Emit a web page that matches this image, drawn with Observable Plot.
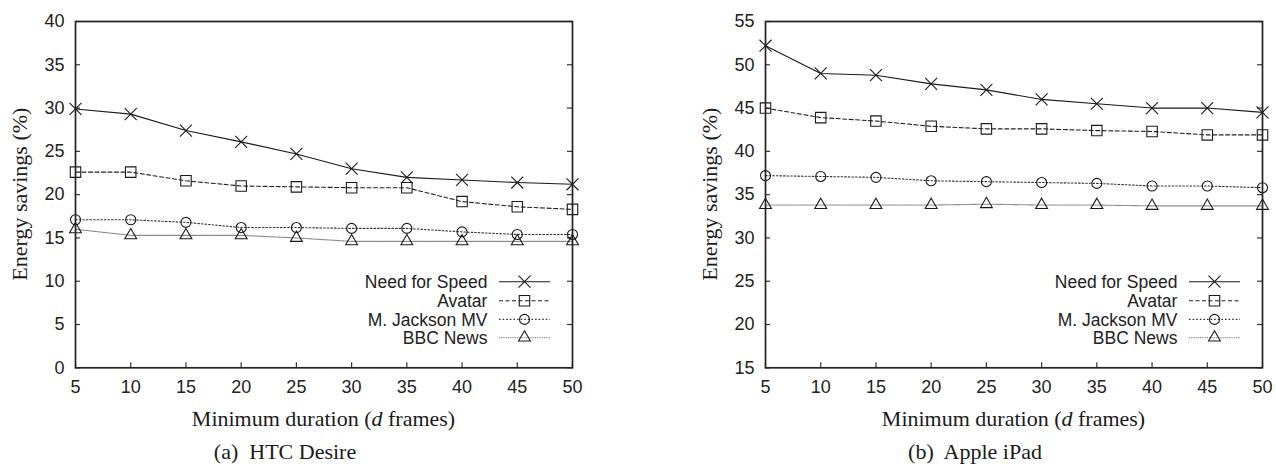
<!DOCTYPE html>
<html>
<head>
<meta charset="utf-8">
<script src="https://cdn.jsdelivr.net/npm/d3@7"></script>
<script src="https://cdn.jsdelivr.net/npm/@observablehq/plot@0.6"></script>
<style>
  html, body { margin: 0; padding: 0; background: #fff; }
  #wrap { position: relative; width: 1276px; height: 464px; overflow: hidden; }
  #wrap svg { position: absolute; top: 0; overflow: visible; }
</style>
</head>
<body>
<div id="wrap"></div>
<script>
// Minimum duration d (frames) on the x axis
const durations = [5, 10, 15, 20, 25, 30, 35, 40, 45, 50];
const seriesNames = ["Need for Speed", "Avatar", "M. Jackson MV", "BBC News"];

// Energy savings (%) on the HTC Desire
const htcNeedForSpeed = [29.9, 29.3, 27.4, 26.1, 24.7, 23.0, 22.0, 21.7, 21.4, 21.2];
const htcAvatar       = [22.6, 22.6, 21.6, 21.0, 20.9, 20.8, 20.8, 19.2, 18.6, 18.3];
const htcJackson      = [17.1, 17.1, 16.8, 16.2, 16.2, 16.1, 16.1, 15.7, 15.4, 15.4];
const htcBBC          = [16.0, 15.3, 15.3, 15.3, 15.0, 14.6, 14.6, 14.6, 14.6, 14.6];

// Energy savings (%) on the Apple iPad
const ipadNeedForSpeed = [52.2, 49.0, 48.8, 47.8, 47.1, 46.0, 45.5, 45.0, 45.0, 44.5];
const ipadAvatar       = [45.0, 43.9, 43.5, 42.9, 42.6, 42.6, 42.4, 42.3, 41.9, 41.9];
const ipadJackson      = [37.2, 37.1, 37.0, 36.6, 36.5, 36.4, 36.3, 36.0, 36.0, 35.8];
const ipadBBC          = [33.8, 33.8, 33.8, 33.8, 33.9, 33.8, 33.8, 33.7, 33.7, 33.7];

// Tick values
const xTicks = [5, 10, 15, 20, 25, 30, 35, 40, 45, 50];
const htcTicksY = [0, 5, 10, 15, 20, 25, 30, 35, 40];
const ipadTicksY = [15, 20, 25, 30, 35, 40, 45, 50, 55];

// Line/point style of each series (gnuplot-like)
const seriesStyles = [
  {symbol: "times",    d3symbol: d3.symbolTimes,    r: 5.5, line: "#1a1a1a", dash: null},
  {symbol: "square",   d3symbol: d3.symbolSquare,   r: 5.9, line: "#222",    dash: "4,2.5"},
  {symbol: "circle",   d3symbol: d3.symbolCircle,   r: 5.0, line: "#333",    dash: "1.6,2"},
  {symbol: "triangle", d3symbol: d3.symbolTriangle, r: 4.4, line: "#8a8a8a", dash: "1,0.8"}
];

const SANS = "'Liberation Sans', Arial, Helvetica, sans-serif";
const SERIF = "'Liberation Serif', 'Times New Roman', serif";

function panel({left, width, marginLeft, marginRight, yDomain, yTicks, values, caption}) {
  const height = 464, marginTop = 21, marginBottom = 96.7;
  const fw = width - marginLeft - marginRight;
  const fh = height - marginTop - marginBottom;

  const marks = [
    Plot.tickY(yTicks, {y: d => d, insetRight: fw - 5, stroke: "#333", strokeWidth: 1.2}),
    Plot.tickY(yTicks, {y: d => d, insetLeft: fw - 5, stroke: "#333", strokeWidth: 1.2}),
    Plot.tickX(xTicks, {x: d => d, insetTop: fh - 5, stroke: "#333", strokeWidth: 1.2}),
    Plot.axisY(yTicks, {tickSize: 0, tickPadding: 11, label: null, fill: "#222"}),
    Plot.axisX(xTicks, {tickSize: 0, tickPadding: 12.5, label: null, fill: "#222"})
  ];

  values.forEach((vals, i) => {
    const s = seriesStyles[i];
    const rows = durations.map((d, j) => ({d, v: vals[j]}));
    marks.push(Plot.line(rows, {
      x: "d", y: "v", stroke: s.line, strokeWidth: 1.1,
      strokeDasharray: s.dash ?? undefined
    }));
  });
  values.forEach((vals, i) => {
    const s = seriesStyles[i];
    const rows = durations.map((d, j) => ({d, v: vals[j]}));
    marks.push(Plot.dot(rows, {
      x: "d", y: "v", symbol: s.symbol, r: s.r,
      stroke: "#1a1a1a", strokeWidth: 1.1, fill: "none"
    }));
  });
  marks.push(Plot.frame({stroke: "#222", strokeWidth: 1.7}));

  const chart = Plot.plot({
    width, height, marginTop, marginBottom, marginLeft, marginRight,
    x: {domain: [5, 50]},
    y: {domain: yDomain},
    style: {fontFamily: SANS, fontSize: "18px", color: "#222", background: "white", overflow: "visible"},
    marks
  });
  chart.style.left = left + "px";

  const svg = d3.select(chart);
  const frameLeft = marginLeft, frameRight = width - marginRight;
  const frameTop = marginTop, frameBottom = height - marginBottom;
  const cx = (frameLeft + frameRight) / 2;

  // Axis titles
  svg.append("text")
    .attr("transform", `translate(${frameLeft - 47.7},${(frameTop + frameBottom) / 2}) rotate(-90)`)
    .attr("text-anchor", "middle")
    .attr("font-family", SERIF).attr("font-size", 22).attr("fill", "#1a1a1a")
    .text("Energy savings (%)");

  const xt = svg.append("text")
    .attr("x", cx).attr("y", 425.5)
    .attr("text-anchor", "middle")
    .attr("font-family", SERIF).attr("font-size", 22).attr("fill", "#1a1a1a");
  xt.append("tspan").text("Minimum duration (");
  xt.append("tspan").attr("font-style", "italic").text("d");
  xt.append("tspan").text(" frames)");

  // Sub-figure caption
  svg.append("text")
    .attr("x", cx - 38.5).attr("y", 459.3)
    .attr("text-anchor", "middle")
    .attr("font-family", SERIF).attr("font-size", 22).attr("fill", "#1a1a1a")
    .attr("xml:space", "preserve")
    .text(caption);

  // Key in the lower right of the frame
  const rowOffsets = [-85.6, -66.6, -47.9, -29.7];
  const key = svg.append("g");
  seriesNames.forEach((name, i) => {
    const s = seriesStyles[i];
    const y = frameBottom + rowOffsets[i];
    key.append("text")
      .attr("x", frameRight - 84.6).attr("y", y).attr("dy", "0.36em")
      .attr("text-anchor", "end")
      .attr("font-family", SANS).attr("font-size", 17.5).attr("fill", "#222")
      .text(name);
    key.append("line")
      .attr("x1", frameRight - 73).attr("x2", frameRight - 22)
      .attr("y1", y).attr("y2", y)
      .attr("stroke", s.line).attr("stroke-width", 1.1)
      .attr("stroke-dasharray", s.dash);
    key.append("path")
      .attr("transform", `translate(${frameRight - 47.5},${y})`)
      .attr("d", d3.symbol(s.d3symbol, Math.PI * s.r * s.r)())
      .attr("fill", "none").attr("stroke", "#1a1a1a").attr("stroke-width", 1.1);
  });

  return chart;
}

const wrap = document.getElementById("wrap");
wrap.append(panel({
  left: 0, width: 638, marginLeft: 75, marginRight: 66,
  yDomain: [0, 40], yTicks: htcTicksY,
  values: [htcNeedForSpeed, htcAvatar, htcJackson, htcBBC],
  caption: "(a)  HTC Desire"
}));
wrap.append(panel({
  left: 638, width: 638, marginLeft: 127, marginRight: 14,
  yDomain: [15, 55], yTicks: ipadTicksY,
  values: [ipadNeedForSpeed, ipadAvatar, ipadJackson, ipadBBC],
  caption: "(b)  Apple iPad"
}));
</script>
</body>
</html>
